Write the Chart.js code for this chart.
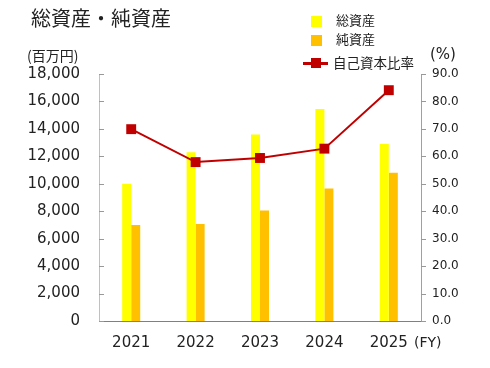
<!DOCTYPE html>
<html><head><meta charset="utf-8">
<script src="https://cdn.jsdelivr.net/npm/chart.js@4"></script>
<style>
html,body{margin:0;padding:0;background:#fff;}
#wrap{position:relative;width:490px;height:368px;overflow:hidden;}
canvas{position:absolute;left:0;top:0;}
.t{position:absolute;white-space:nowrap;color:#222;line-height:1;}
.cjk{font-family:"Noto Sans CJK JP","Noto Sans",sans-serif;}
.lat{font-family:"DejaVu Sans",sans-serif;}
.sw{position:absolute;width:11px;height:11px;}
</style></head>
<body><div id="wrap">
<canvas id="c" width="490" height="368"></canvas>
<div class="t cjk" style="left:31px;top:8px;font-size:20px;">総資産・純資産</div>
<div class="t cjk" style="left:27px;top:48px;font-size:14px;">(百万円)</div>
<div class="t lat" style="left:430px;top:47px;font-size:15px;">(%)</div>
<div class="t lat" style="left:414px;top:335px;font-size:14px;">(FY)</div>
<div class="sw" style="left:311px;top:16px;background:#FFFF00;"></div>
<div class="t cjk" style="left:336px;top:13px;font-size:13px;">総資産</div>
<div class="sw" style="left:311px;top:35px;background:#FFC000;"></div>
<div class="t cjk" style="left:336px;top:32px;font-size:13px;">純資産</div>
<div style="position:absolute;left:303px;top:62px;width:25px;height:3px;background:#C00000;"></div>
<div style="position:absolute;left:311px;top:58px;width:10px;height:10px;background:#C00000;"></div>
<div class="t cjk" style="left:333px;top:56px;font-size:13.5px;">自己資本比率</div>
</div>
<script>
const categories = ["2021","2022","2023","2024","2025"];
const totalAssets = [10000, 12300, 13600, 15450, 12900];
const netAssets = [7000, 7070, 8050, 9650, 10800];
const equityRatio = [69.9, 57.9, 59.4, 62.8, 84.1];
const leftTicks = [0,2000,4000,6000,8000,10000,12000,14000,16000,18000];
const rightTicks = [0,10,20,30,40,50,60,70,80,90];

const innerTicks = {
  id:'innerTicks',
  afterDraw(chart){
    const ctx = chart.ctx, y = chart.scales.y, r = chart.scales.y1;
    ctx.save();
    ctx.strokeStyle = '#999'; ctx.lineWidth = 1;
    y.ticks.forEach(t=>{
      const p = Math.round(y.getPixelForValue(t.value))+0.5;
      ctx.beginPath(); ctx.moveTo(y.right, p); ctx.lineTo(y.right+5, p); ctx.stroke();
    });
    r.ticks.forEach(t=>{
      const p = Math.round(r.getPixelForValue(t.value))+0.5;
      ctx.beginPath(); ctx.moveTo(r.left, p); ctx.lineTo(r.left+5, p); ctx.stroke();
    });
    ctx.restore();
  }
};

new Chart(document.getElementById('c'), {
  data: {
    labels: categories,
    datasets: [
      {type:'line', label:'自己資本比率', data:equityRatio, yAxisID:'y1',
       borderColor:'#C00000', backgroundColor:'#C00000', borderWidth:2,
       pointStyle:'rect', pointRadius:7, pointHoverRadius:7, pointBorderColor:'#C00000', pointBorderWidth:0, order:0},
      {type:'bar', label:'総資産', data:totalAssets, yAxisID:'y', backgroundColor:'#FFFF00',
       categoryPercentage:0.28, barPercentage:1.0, order:1},
      {type:'bar', label:'純資産', data:netAssets, yAxisID:'y', backgroundColor:'#FFC000',
       categoryPercentage:0.28, barPercentage:1.0, order:1}
    ]
  },
  options: {
    responsive:false, animation:false,
    layout:{padding:{top:74, left:0, right:0, bottom:0}},
    plugins:{legend:{display:false}, tooltip:{enabled:false}, title:{display:false}},
    scales:{
      x:{
        grid:{display:false, drawTicks:false},
        border:{display:true, color:'#808080', width:1},
        ticks:{color:'#222', font:{family:'DejaVu Sans', size:15}, padding:13},
        afterFit(s){ s.height = 47; }
      },
      y:{
        position:'left', min:0, max:18000,
        afterBuildTicks(s){ s.ticks = leftTicks.map(v=>({value:v})); },
        grid:{display:false, drawTicks:false},
        border:{display:true, color:'#c0c0c0', width:1},
        ticks:{color:'#222', font:{family:'DejaVu Sans', size:15}, padding:19,
          callback:v=>v.toLocaleString('en-US')},
        afterFit(s){ s.width = 99; }
      },
      y1:{
        position:'right', min:0, max:90,
        afterBuildTicks(s){ s.ticks = rightTicks.map(v=>({value:v})); },
        grid:{display:false, drawTicks:false},
        border:{display:true, color:'#a0a0a0', width:1},
        ticks:{color:'#222', font:{family:'DejaVu Sans', size:12}, padding:11,
          callback:v=>Number(v).toFixed(1)},
        afterFit(s){ s.width = 69; }
      }
    }
  },
  plugins:[innerTicks]
});
</script>
</body></html>
